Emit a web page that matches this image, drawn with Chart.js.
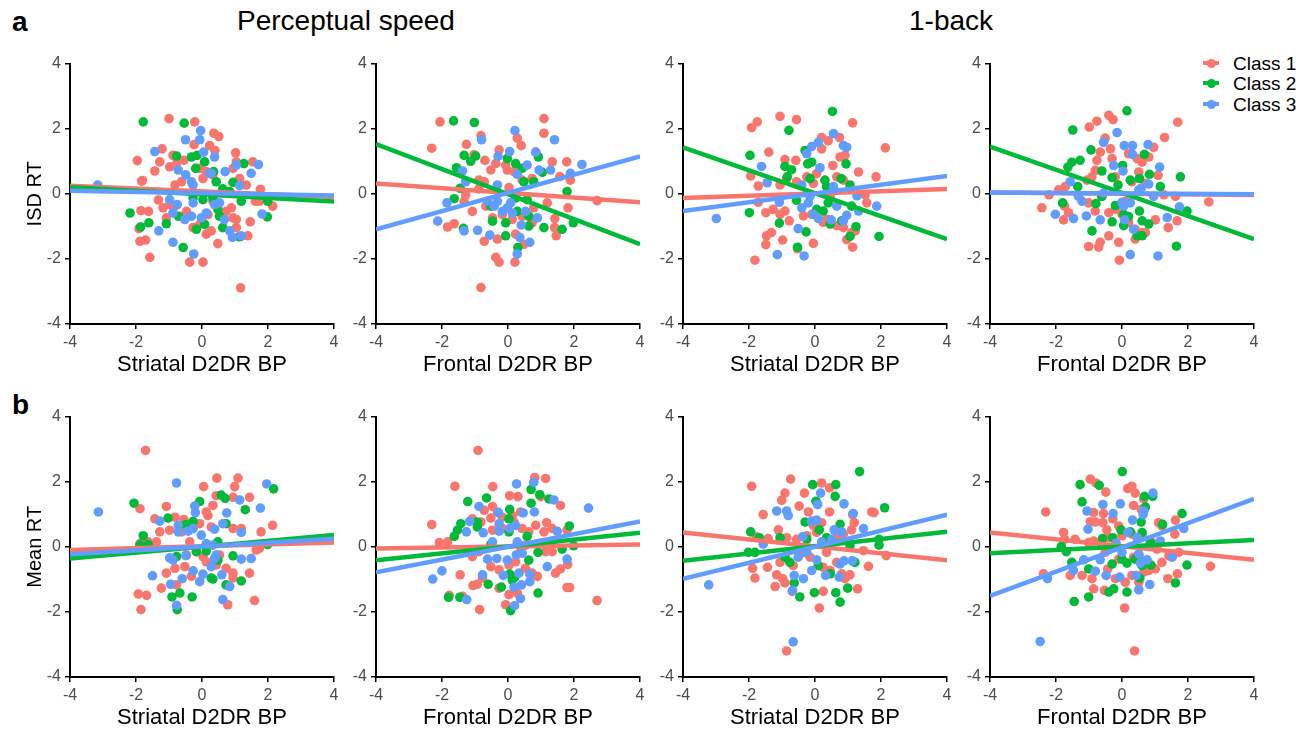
<!DOCTYPE html>
<html>
<head>
<meta charset="utf-8">
<script src="https://cdn.jsdelivr.net/npm/chart.js@4.4.1/dist/chart.umd.min.js"></script>
<style>
  html, body { margin:0; padding:0; background:#fff; }
  body { width:1311px; height:731px; position:relative; overflow:hidden; font-family:"Liberation Sans", Arial, sans-serif; }
  canvas { position:absolute; }
  .lbl { position:absolute; white-space:nowrap; color:#000; line-height:1; }
  .leg { position:absolute; left:1199px; width:110px; height:20px; font-size:19px; line-height:1; white-space:nowrap; }
  .leg .key { position:absolute; left:0; top:0; width:24px; height:20px; }
  .leg .key .ln { position:absolute; left:4px; top:8px; width:16px; height:4px; }
  .leg .key .dt { position:absolute; left:7.5px; top:5.5px; width:9px; height:9px; border-radius:50%; }
  .leg .txt { position:absolute; left:34px; top:1px; white-space:nowrap; }
</style>
</head>
<body>
<div class="lbl" style="left:12px;top:8px;font-size:28px;font-weight:bold;">a</div>
<div class="lbl" style="left:12px;top:391px;font-size:28px;font-weight:bold;">b</div>
<div class="lbl" style="left:237px;top:7px;font-size:28px;">Perceptual speed</div>
<div class="lbl" style="left:909px;top:7px;font-size:28px;">1-back</div>

<div class="leg" style="top:53px;"><div class="key"><div class="ln" style="background:#F8766D"></div><div class="dt" style="background:#F8766D"></div></div><div class="txt">Class 1</div></div>
<div class="leg" style="top:73px;"><div class="key"><div class="ln" style="background:#00BA38"></div><div class="dt" style="background:#00BA38"></div></div><div class="txt">Class 2</div></div>
<div class="leg" style="top:94px;"><div class="key"><div class="ln" style="background:#619CFF"></div><div class="dt" style="background:#619CFF"></div></div><div class="txt">Class 3</div></div>

<canvas id="c1"></canvas><canvas id="c2"></canvas><canvas id="c3"></canvas><canvas id="c4"></canvas>
<canvas id="c5"></canvas><canvas id="c6"></canvas><canvas id="c7"></canvas><canvas id="c8"></canvas>

<script>
// ---------------- DATA ----------------
const classNames = ["Class 1", "Class 2", "Class 3"];
const axisTicks = [-4, -2, 0, 2, 4];
const xTitles = ["Striatal D2DR BP", "Frontal D2DR BP", "Striatal D2DR BP", "Frontal D2DR BP"];
const yTitles = ["ISD RT", "Mean RT"];
const taskTitles = ["Perceptual speed", "1-back"];

// Panel 1: ISD RT (perceptual speed) vs striatal
const p1_class1 = [[-1.0,2.31],[-0.22,2.21],[0.36,1.86],[0.51,1.76],[-0.24,1.51],[-1.21,1.38],[-1.96,1.02],[-0.88,1.18],[0.23,1.48],[0.39,1.33],[1.02,1.26],[-1.43,0.70],[-0.98,0.83],[-0.77,0.93],[-0.55,1.03],[-0.07,0.78],[0.13,0.68],[-1.80,0.41],[-1.83,0.39],[-0.82,0.27],[-0.62,0.37],[0.03,0.47],[0.33,0.58],[0.94,0.78],[1.14,0.47],[1.34,0.27],[1.77,0.14],[1.62,-0.23],[1.74,-0.23],[2.14,-0.38],[1.04,0.98],[1.54,0.98],[-1.32,-0.19],[-1.18,-0.43],[-1.85,-0.52],[-1.62,-0.54],[-0.98,-0.33],[-0.82,-0.38],[-1.08,-0.74],[-0.47,-0.54],[0.18,-0.64],[-0.07,-0.94],[0.28,-1.14],[0.73,-0.54],[0.94,-0.74],[1.04,-0.79],[1.04,-1.04],[0.89,-0.43],[1.46,-0.86],[-1.88,-1.46],[-1.71,-1.42],[-1.58,-1.95],[-0.37,-2.10],[0.03,-2.10],[0.48,-1.53],[1.39,-1.29],[1.17,-2.89],[-1.91,-1.07],[-0.27,-1.04],[0.13,-1.24],[0.33,-0.23],[-1.28,0.98]];
const p1_class2 = [[-1.78,2.21],[-0.54,2.17],[-0.77,1.16],[-0.32,1.13],[-0.15,1.18],[0.08,0.98],[-0.19,0.78],[0.35,0.68],[1.27,0.93],[0.43,0.37],[0.94,0.35],[0.63,0.15],[0.84,0.07],[0.03,-0.18],[1.19,-0.23],[1.99,-0.23],[-2.18,-0.59],[-1.86,-1.02],[-1.61,-0.89],[-1.08,-0.92],[-0.71,-0.69],[-0.17,-1.09],[0.08,-0.94],[0.48,-0.48],[0.53,-0.69],[0.63,-1.04],[-0.57,-1.65],[1.14,-1.32],[1.98,-0.71],[0.33,-0.13],[-0.27,-0.13]];
const p1_class3 = [[-3.16,0.27],[-1.43,1.30],[-0.50,1.66],[-0.04,1.94],[-0.07,1.66],[0.05,1.28],[0.38,1.13],[-0.72,0.73],[-0.49,0.58],[-0.32,0.37],[-0.27,0.27],[0.23,0.63],[0.70,0.68],[1.04,0.88],[1.49,0.63],[1.71,0.90],[1.14,0.25],[-0.98,-0.18],[-0.88,-0.59],[-0.75,-0.33],[-0.52,-0.79],[-0.32,-0.69],[-0.27,-0.28],[-0.02,-0.74],[0.13,-0.59],[0.38,-0.33],[0.53,-0.28],[0.68,-0.79],[0.84,-1.14],[0.92,-1.34],[1.19,-1.29],[1.82,-0.62],[-1.31,-1.14],[-0.88,-1.49],[-0.25,-1.85],[0.28,0.63]];
// fitted line values at x = -4 and x = 4
const p1_fit1 = [0.25, -0.10];
const p1_fit2 = [0.20, -0.24];
const p1_fit3 = [0.09, -0.05];

// Panel 2: ISD RT (perceptual speed) vs frontal
const p2_class1 = [[-2.06,2.21],[1.09,2.31],[1.09,1.86],[-0.82,1.79],[0.28,1.71],[0.40,1.48],[-2.31,1.40],[-1.26,1.52],[-0.27,1.35],[-1.03,1.20],[-0.70,1.03],[-0.37,0.93],[-0.07,0.88],[-0.02,0.73],[-0.52,0.73],[0.84,1.28],[1.34,0.98],[1.78,0.98],[1.57,0.53],[1.89,0.42],[0.18,0.68],[0.43,0.42],[0.73,0.47],[-0.88,0.42],[-0.72,0.37],[0.03,0.19],[-0.88,0.15],[-1.33,-0.23],[-1.08,-0.54],[-0.67,-0.38],[-0.47,-0.74],[-0.17,-0.64],[0.13,-0.79],[0.43,-0.69],[0.73,-0.89],[1.19,-0.28],[1.42,-0.76],[1.82,-0.43],[1.41,-1.04],[1.46,-1.29],[2.70,-0.21],[-1.83,-1.02],[-1.63,-0.92],[-0.72,-1.46],[-0.32,-1.39],[-0.37,-1.95],[-0.27,-2.10],[0.21,-2.10],[0.48,-1.55],[0.23,-1.24],[-0.82,-2.88],[-1.28,-0.03],[0.78,-0.43]];
const p2_class2 = [[-1.65,2.24],[-1.02,2.19],[-1.33,1.18],[-0.98,1.16],[-1.13,1.0],[-1.56,0.80],[0.23,0.93],[-0.02,1.08],[0.43,0.78],[1.04,0.66],[0.92,1.13],[0.48,0.37],[0.78,0.37],[-1.45,0.17],[-1.63,-0.15],[0.23,-0.13],[0.58,-0.18],[1.79,0.07],[0.28,-0.54],[0.63,-0.69],[-0.07,-0.89],[-0.47,-0.84],[-0.52,-0.38],[1.09,-1.04],[1.64,-1.09],[1.98,-0.89],[-1.35,-1.06],[-0.07,-1.29],[0.30,-1.65],[0.63,-0.99]];
const p2_class3 = [[0.21,1.94],[-0.80,1.66],[1.41,1.66],[0.05,1.30],[-0.30,1.15],[0.84,1.28],[0.58,0.88],[0.94,0.73],[1.29,0.73],[1.89,0.63],[2.24,0.90],[0.28,0.60],[-1.38,0.70],[-0.32,0.27],[-0.62,-0.23],[-0.42,-0.38],[-1.85,-0.28],[-2.13,-0.84],[-1.33,-1.14],[-0.92,-1.12],[-0.55,-1.27],[-0.17,-0.54],[-0.02,-0.43],[0.08,-0.28],[0.13,-0.59],[0.53,-0.54],[0.89,-0.74],[0.40,-0.96],[0.36,-1.34],[0.66,-1.49],[0.28,-1.85],[-0.32,-0.23],[-1.28,0.37]];
const p2_fit1 = [0.32, -0.26];
const p2_fit2 = [1.53, -1.55];
const p2_fit3 = [-1.09, 1.15];

// Panel 3: ISD RT (1-back) vs striatal
const p3_class1 = [[-1.92,2.03],[-1.75,2.21],[-1.06,2.38],[-0.56,2.28],[1.14,2.18],[-1.40,1.28],[-0.91,1.05],[-0.58,1.03],[0.20,1.73],[0.40,1.63],[0.74,1.73],[0.20,1.38],[0.54,0.87],[0.76,1.13],[0.91,1.18],[2.13,1.41],[1.32,0.67],[1.85,0.52],[-1.95,0.55],[-1.72,0.24],[-1.06,0.27],[-0.86,0.47],[-0.56,0.37],[-0.25,0.52],[-0.05,0.32],[0.05,0.62],[0.66,0.52],[0.86,0.42],[1.52,-0.03],[1.57,-0.28],[-1.72,-0.26],[-1.49,-0.58],[-1.27,-0.48],[-1.06,-0.63],[-0.91,-0.53],[-0.78,-0.83],[-0.35,-0.68],[-0.10,-0.63],[0.25,-0.88],[0.66,-0.98],[0.86,-1.04],[1.11,-1.19],[1.22,-1.14],[-1.47,-1.29],[-1.32,-1.19],[-1.49,-1.56],[-0.98,-1.42],[-0.53,-1.69],[-0.05,-1.52],[-1.82,-2.04],[0.96,-1.41],[1.14,-1.64],[0.35,-0.78],[0.46,-0.08]];
const p3_class2 = [[0.53,2.53],[-0.79,1.95],[-1.97,1.18],[-0.30,1.33],[-0.10,0.97],[-0.22,0.92],[-0.91,0.84],[-0.71,0.74],[-0.84,0.52],[-0.15,0.47],[0.30,0.42],[0.79,0.47],[0.94,0.92],[1.06,0.27],[0.35,0.22],[-0.56,-0.20],[-1.99,-0.58],[-1.08,-0.90],[-0.27,-1.17],[-0.53,-1.64],[0.05,-0.48],[0.25,-0.53],[0.46,-0.93],[1.11,-0.38],[1.24,-1.01],[1.06,-1.31],[1.94,-1.31],[0.81,-0.83],[0.40,-0.28]];
const p3_class3 = [[-2.99,-0.76],[-1.62,0.84],[-1.45,0.34],[-1.08,-0.26],[-0.25,1.23],[-0.10,1.45],[0.10,1.58],[0.56,1.85],[0.86,1.48],[0.96,1.43],[0.15,0.80],[-0.40,0.27],[-0.15,-0.08],[-0.40,-0.43],[-0.20,-0.28],[-0.05,-0.63],[0.10,-0.76],[0.49,-0.80],[0.86,-0.83],[0.96,-0.66],[1.32,-0.53],[1.27,-0.06],[1.87,-0.38],[0.56,0.22],[-0.51,-1.07],[-1.14,-1.87],[-0.33,-1.91],[0.66,-0.38]];
const p3_fit1 = [-0.13, 0.15];
const p3_fit2 = [1.43, -1.39];
const p3_fit3 = [-0.53, 0.55];

// Panel 4: ISD RT (1-back) vs frontal
const p4_class1 = [[-0.99,2.05],[-0.76,2.23],[-0.40,2.41],[-0.27,2.28],[1.69,2.20],[1.29,1.73],[-0.51,1.71],[-0.35,1.38],[-0.66,1.28],[-0.76,1.03],[-0.81,0.72],[-0.30,1.08],[0.46,1.08],[0.61,0.97],[0.81,1.13],[0.96,1.43],[0.20,1.23],[0.51,0.67],[1.09,0.57],[0.71,0.32],[0.30,0.37],[-0.20,0.52],[-0.91,0.52],[-1.06,0.42],[-1.72,0.22],[-1.92,0.12],[-2.21,-0.03],[-2.43,-0.43],[-1.74,-0.38],[-1.62,-0.58],[-1.77,-0.80],[-1.01,-0.28],[-0.81,-0.53],[-0.40,-0.58],[-0.20,-0.48],[0,-0.63],[0.20,-0.88],[0.40,-1.09],[0.71,-1.19],[1.01,-0.80],[1.40,-1.04],[1.67,-0.83],[1.62,-0.08],[2.63,-0.25],[1.27,-0.03],[-0.40,-1.29],[-0.10,-1.49],[-1.01,-1.62],[-0.71,-1.64],[-0.66,-1.49],[-0.08,-2.04],[0.40,-1.39],[0.61,-1.19],[-0.61,-0.08],[0.10,-0.23]];
const p4_class2 = [[0.15,2.55],[-1.49,1.96],[-0.94,1.35],[-1.64,0.82],[-1.52,0.97],[-1.27,1.03],[-0.61,0.70],[-0.30,0.50],[-0.12,0.27],[0.02,0.87],[0.25,0.42],[0.53,0.47],[0.68,1.21],[0.83,0.60],[1.16,0.22],[1.77,0.52],[-1.34,0.22],[-1.80,-0.28],[-0.79,-0.30],[-0.20,-0.36],[0.05,-0.63],[0.20,-0.70],[0.53,-0.53],[0.61,-0.83],[0.81,-0.93],[-0.30,-0.86],[-0.91,-1.14],[0.05,-0.98],[0.46,-1.29],[0.61,-1.29],[1.65,-1.61],[1.97,-0.53],[-0.61,-0.08]];
const p4_class3 = [[-0.15,1.88],[-0.56,1.58],[0.07,1.48],[0.32,1.48],[0.79,1.51],[0.32,1.21],[-0.25,0.87],[0.03,0.70],[1.14,0.82],[-1.57,0.37],[-1.21,-0.23],[-1.32,-0.08],[-2.02,-0.63],[-1.47,-0.76],[-1.08,-0.68],[-0.66,-0.80],[-0.56,0.02],[0,-0.26],[0.05,-0.38],[0.25,-0.28],[0.58,0.17],[0.81,0.30],[0.96,-0.08],[0.08,-0.80],[0.35,-1.09],[1.37,-0.73],[1.74,-0.40],[0.25,-1.87],[1.09,-1.91],[0.51,0.12]];
const p4_fit1 = [0.04, -0.04];
const p4_fit2 = [1.45, -1.39];
const p4_fit3 = [0.04, -0.01];

// Panel 5: Mean RT (perceptual speed) vs striatal
const p5_class1 = [[-1.71,2.96],[0.45,2.11],[1.09,2.11],[0.05,1.85],[0.99,1.85],[1.44,1.52],[0.43,1.57],[0.94,1.52],[0.33,1.27],[0.13,1.07],[0.18,0.96],[-1.88,1.17],[-1.08,1.24],[-1.43,0.86],[-0.82,0.91],[-0.55,0.84],[-1.28,0.46],[-0.98,0.51],[-0.62,0.46],[-1.38,0.15],[-1.88,0.10],[-1.63,0.15],[-0.07,0.71],[0.28,0.61],[0.94,0.56],[1.19,0.56],[1.79,0.46],[2.14,0.66],[1.64,-0.10],[1.74,-0.05],[-0.37,0.15],[-0.17,-0.15],[0.03,-0.30],[-0.47,-0.25],[-0.82,-0.66],[-0.52,-0.61],[-1.08,-0.81],[-1.23,-1.27],[-0.77,-1.17],[-0.32,-0.91],[0.43,-0.56],[0.73,-0.66],[0.94,-0.96],[0.94,-0.81],[1.44,-0.81],[0.78,-1.78],[-1.93,-1.45],[-1.68,-1.49],[-1.85,-1.93],[1.59,-1.65],[0.53,-0.25],[0.13,-0.46]];
const p5_class2 = [[-2.06,1.34],[0.58,1.59],[0.70,1.49],[2.17,1.78],[1.31,1.14],[-0.07,1.39],[-1.03,0.88],[-0.49,0.68],[-0.27,0.78],[0.73,0.71],[-1.78,0.34],[-1.88,0.05],[-1.63,0.07],[-0.17,-0.15],[0.13,-0.13],[0.48,-0.41],[0.94,-0.28],[1.99,0.07],[1.19,-1.05],[0.73,-1.17],[0.33,-0.99],[0.28,-0.96],[-0.91,-1.54],[-0.67,-1.42],[-0.30,-1.54],[-0.75,-1.93],[-0.77,-0.30],[0.48,0.15]];
const p5_class3 = [[-3.14,1.07],[-0.77,1.96],[1.96,1.93],[1.14,1.44],[-0.22,1.25],[-0.20,1.05],[1.77,1.19],[0.75,1.04],[-1.28,0.79],[-0.72,0.66],[-0.72,0.46],[-0.42,0.48],[-0.27,0.56],[0.38,0.54],[0.63,0.71],[1.19,0.44],[-0.02,0.36],[0.13,0.10],[0.33,0.05],[0.43,-0.25],[-0.98,-0.34],[-0.88,-0.41],[-0.49,-0.27],[0.38,-0.36],[1.19,-0.38],[1.49,-0.36],[-0.27,-0.74],[0.03,-0.84],[-0.07,-1.07],[0.28,-0.61],[-1.50,-0.89],[-0.95,-1.15],[-0.60,-0.98],[0.60,-0.86],[0.84,-1.22],[0.63,-1.62],[-0.77,-1.80]];
const p5_fit1 = [-0.10, 0.13];
const p5_fit2 = [-0.36, 0.36];
const p5_fit3 = [-0.23, 0.25];

// Panel 6: Mean RT (perceptual speed) vs frontal
const p6_class1 = [[-0.91,2.96],[-1.61,1.86],[-0.46,1.85],[0.81,2.13],[1.14,2.10],[0.05,1.57],[0.30,1.54],[0.99,1.54],[1.59,1.27],[-0.72,1.12],[-0.47,1.24],[-0.32,1.07],[-0.17,0.91],[0.13,0.96],[0.38,1.07],[-2.31,0.68],[-1.08,0.86],[-0.82,0.76],[-0.52,0.88],[-0.47,0.51],[-0.17,0.56],[0.18,0.76],[0.43,0.56],[0.63,0.46],[0.84,0.66],[1.17,0.74],[1.09,0.46],[1.34,0.56],[1.79,0.51],[-2.08,0.13],[-1.83,0.15],[-1.08,-0.30],[-0.88,-0.15],[-0.52,-0.61],[-0.27,-0.71],[0.03,-0.56],[0.23,-0.46],[0.53,-0.66],[0.73,-0.81],[0.89,-0.91],[1.14,-0.15],[1.34,-0.15],[1.44,-0.81],[1.59,-0.68],[1.81,-0.54],[-1.45,-0.86],[-1.06,-1.19],[-0.93,-1.15],[-0.77,-0.96],[-0.27,-1.27],[-0.07,-1.78],[0.03,-1.47],[0.28,-1.42],[1.79,-1.25],[1.87,-1.25],[2.70,-1.65],[-0.86,-1.93],[-1.78,-1.49],[-1.38,-1.52],[0.38,-0.15],[0.53,0.05],[1.34,0.15]];
const p6_class2 = [[-1.22,1.39],[-0.65,1.50],[0.70,1.76],[0.96,1.60],[1.24,1.47],[0.70,1.34],[0.05,1.15],[0.03,0.86],[-1.43,0.71],[-1.53,0.51],[-1.63,0.32],[-0.93,0.76],[-0.93,0.61],[0.58,0.32],[1.86,0.64],[1.99,0.03],[1.64,-0.07],[0.91,-0.17],[0.63,-0.41],[0.05,-0.84],[0.13,-1.02],[0.20,-0.94],[-0.60,-1.15],[-0.20,-1.24],[-1.80,-1.55],[-1.46,-1.55],[0.91,-1.42],[0.08,-1.96],[-0.52,0.07],[0.03,0.46]];
const p6_class3 = [[0.26,1.93],[0.78,1.98],[1.39,1.44],[2.44,1.19],[-0.88,1.24],[-0.29,1.05],[0.46,1.04],[0.80,1.07],[-1.16,0.78],[-1.26,0.46],[-0.75,0.43],[-0.27,0.71],[-0.27,0.48],[0.05,0.56],[0.23,0.66],[0.28,0.15],[1.19,-0.61],[1.49,0.48],[1.79,-0.38],[-0.62,-0.38],[-0.34,-0.36],[-0.02,-0.41],[0.25,-0.25],[0.43,-0.20],[-0.77,-0.86],[-0.14,-0.88],[0.33,-0.81],[0.66,-0.84],[0.66,-1.07],[0.41,-1.17],[0.18,-1.24],[-2.28,-0.99],[-2.00,-0.74],[-1.25,-1.62],[0.38,-1.59],[0.20,-1.81],[-0.47,0.15]];
const p6_fit1 = [-0.05, 0.07];
const p6_fit2 = [-0.41, 0.43];
const p6_fit3 = [-0.78, 0.78];

// Panel 7: Mean RT (1-back) vs striatal
const p7_class1 = [[-1.92,1.86],[-0.74,2.08],[-0.91,1.65],[-1.01,1.43],[-0.32,1.65],[0.20,1.96],[0.44,1.81],[-0.48,1.25],[-0.20,1.07],[-1.57,0.99],[0.44,1.07],[1.14,0.99],[1.72,1.07],[1.79,1.05],[-1.11,0.52],[-1.77,0.31],[-1.42,0.25],[-0.86,0.28],[-0.56,0.23],[-0.25,0.34],[0.05,0.44],[0.20,0.74],[-0.05,0.66],[0.66,0.28],[0.86,0.39],[1.11,0.52],[1.19,0.74],[1.47,-0.12],[2.16,-0.27],[-1.89,-0.66],[-1.82,-0.96],[-1.44,-0.63],[-1.16,-0.86],[-0.98,-0.98],[-0.91,-1.11],[-1.06,-0.48],[-0.66,-0.58],[-0.15,-0.32],[0.25,-0.63],[0.46,-0.73],[0.66,-0.48],[0.81,-0.83],[0.91,-0.98],[1.06,-0.86],[1.62,-0.60],[1.29,-1.29],[-1.21,-1.22],[-0.69,-1.37],[0.25,-1.37],[0.13,-1.88],[-0.86,-3.20],[-0.35,-0.17],[0.35,-0.17]];
const p7_class2 = [[1.35,2.31],[-0.07,1.91],[0.63,1.91],[0.61,1.55],[0.03,1.40],[2.11,1.20],[-0.30,0.76],[0.13,0.52],[0.76,0.69],[-1.95,0.46],[-1.69,0.28],[-1.06,0.28],[-2.02,-0.17],[-1.82,-0.17],[-0.91,-0.32],[-0.76,-0.48],[-0.25,0.23],[0.35,0.28],[1.06,0.03],[1.94,0.05],[1.94,0.23],[-0.63,-1.11],[-0.46,-1.54],[-0.02,-1.41],[0.63,-1.41],[0.76,-1.70],[0.99,-1.27],[0.10,-0.58],[0.46,-0.83],[1.21,-0.48]];
const p7_class3 = [[0.17,1.65],[0.08,1.30],[0.88,1.32],[1.16,1.02],[-1.16,1.10],[-0.86,1.10],[-0.81,0.96],[-0.10,0.79],[0.05,0.82],[0.58,0.52],[0.81,0.46],[1.47,0.56],[-0.37,0.31],[0.20,0.15],[0.51,0.23],[-0.51,-0.32],[-0.25,-0.17],[0.05,-0.40],[0.76,-0.53],[0.88,-0.43],[1.13,-0.43],[-0.63,-0.88],[-0.35,-0.98],[-0.10,-0.73],[0.32,-0.88],[0.73,-0.93],[-0.68,-1.34],[-3.22,-1.17],[-0.66,-2.92],[-1.57,0.08]];
const p7_fit1 = [0.44, -0.41];
const p7_fit2 = [-0.43, 0.46];
const p7_fit3 = [-0.98, 0.99];

// Panel 8: Mean RT (1-back) vs frontal
const p8_class1 = [[-0.96,2.08],[-0.79,1.96],[0.30,1.86],[0.17,1.79],[0.40,1.65],[-0.49,1.68],[-2.31,1.07],[-0.86,1.05],[-0.56,1.02],[-0.28,0.86],[0.35,1.27],[0.58,1.15],[0.66,1.47],[-0.96,0.77],[-0.81,0.76],[-0.58,0.74],[-0.46,0.52],[-0.10,0.64],[1.11,0.74],[1.21,0.64],[1.62,0.82],[1.60,0.39],[-1.77,0.44],[-1.74,0.23],[-1.42,0.23],[-1.01,0.13],[-0.86,0.18],[-0.40,0.28],[0,0.34],[0.30,0.39],[0.61,0.34],[0.91,0.13],[1.06,-0.07],[1.72,-0.17],[1.42,-0.27],[2.68,-0.60],[-2.38,-0.83],[-1.57,-0.88],[-1.21,-0.88],[-0.91,-0.98],[-0.86,-1.29],[-0.53,-1.34],[-0.43,-0.68],[-0.20,-0.98],[0.10,-1.09],[0.30,-0.88],[0.51,-1.09],[0.66,-0.78],[0.81,-0.73],[1.01,-0.68],[1.39,-0.98],[1.68,-0.83],[0.08,-1.88],[0.38,-3.20],[-0.51,-0.17],[-0.10,-0.38],[0.35,-0.32],[1.21,-0.48]];
const p8_class2 = [[0.01,2.31],[-1.27,1.91],[-0.69,1.89],[-1.21,1.38],[0.71,1.22],[0.68,1.55],[0.93,1.55],[0.58,0.76],[1.82,1.02],[1.23,0.69],[-0.59,0.25],[-0.28,0.28],[-0.03,0.52],[0.25,0.46],[0.61,0.44],[0.86,0.13],[-1.84,0.01],[-1.69,-0.15],[-1.52,-0.48],[-1.01,-0.68],[-0.30,-0.53],[0,-0.38],[0.15,-0.50],[0.40,-0.38],[0.61,-0.58],[0.88,-0.56],[1.97,-0.56],[1.62,-1.11],[-1.45,-1.68],[-1.01,-1.54],[-0.40,-1.39],[-0.25,-1.29],[0.15,-1.39],[0.54,-0.96],[0.51,-0.27]];
const p8_class3 = [[0.94,1.65],[-0.58,1.30],[-0.05,1.32],[-1.06,1.10],[-0.27,1.02],[0.66,1.10],[0.64,0.99],[0.32,0.82],[-1.03,0.54],[0.18,0.44],[0.46,0.28],[1.16,0.18],[1.87,0.56],[-0.18,0.11],[0,-0.17],[-1.16,-0.40],[-0.66,-0.40],[0.51,-0.22],[0.76,-0.40],[0.56,-0.50],[1.52,-0.32],[-1.47,-0.73],[-0.81,-0.75],[-0.48,-0.88],[-0.07,-0.93],[0.43,-0.88],[0.84,-1.16],[0.51,-1.32],[-2.26,-0.98],[-2.48,-2.91]];
const p8_fit1 = [0.44, -0.40];
const p8_fit2 = [-0.20, 0.21];
const p8_fit3 = [-1.51, 1.47];

// ---------------- DRAWING ----------------
const FONT = '"Liberation Sans", Arial, sans-serif';
const COLORS = ['#F8766D', '#00BA38', '#619CFF'];
const PLOT_W = 264, PLOT_H = 262;
const Y_W = 60, X_H = 60, PAD_T = 12, PAD_R = 14, PAD_B = 2;

const panels = [
  { id:'c1', ax:70,  top:62,  pts:[p1_class1,p1_class2,p1_class3], fits:[p1_fit1,p1_fit2,p1_fit3], xt:xTitles[0], yt:yTitles[0] },
  { id:'c2', ax:376, top:62,  pts:[p2_class1,p2_class2,p2_class3], fits:[p2_fit1,p2_fit2,p2_fit3], xt:xTitles[1], yt:null },
  { id:'c3', ax:683, top:62,  pts:[p3_class1,p3_class2,p3_class3], fits:[p3_fit1,p3_fit2,p3_fit3], xt:xTitles[2], yt:null },
  { id:'c4', ax:990, top:62,  pts:[p4_class1,p4_class2,p4_class3], fits:[p4_fit1,p4_fit2,p4_fit3], xt:xTitles[3], yt:null },
  { id:'c5', ax:70,  top:415, pts:[p5_class1,p5_class2,p5_class3], fits:[p5_fit1,p5_fit2,p5_fit3], xt:xTitles[0], yt:yTitles[1] },
  { id:'c6', ax:376, top:415, pts:[p6_class1,p6_class2,p6_class3], fits:[p6_fit1,p6_fit2,p6_fit3], xt:xTitles[1], yt:null },
  { id:'c7', ax:683, top:415, pts:[p7_class1,p7_class2,p7_class3], fits:[p7_fit1,p7_fit2,p7_fit3], xt:xTitles[2], yt:null },
  { id:'c8', ax:990, top:415, pts:[p8_class1,p8_class2,p8_class3], fits:[p8_fit1,p8_fit2,p8_fit3], xt:xTitles[3], yt:null }
];

const xMin = axisTicks[0], xMax = axisTicks[axisTicks.length - 1];

function axisOpts(isX, title) {
  return {
    type: 'linear',
    min: xMin, max: xMax,
    afterBuildTicks: (s) => { s.ticks = axisTicks.map(v => ({ value: v })); },
    ticks: { color: '#4D4D4D', font: { size: 16, family: FONT }, padding: 4, callback: (v) => String(v) },
    grid: { drawOnChartArea: false, drawTicks: true, tickLength: 5, color: '#000', lineWidth: 1.5 },
    border: { display: true, color: '#000', width: 2 },
    title: title ? {
      display: true, text: title, color: '#000',
      font: { size: isX ? 22 : 20, family: FONT },
      padding: isX ? { top: 0, bottom: 6 } : { top: 13, bottom: 0 }
    } : { display: false },
    afterFit: (s) => { if (isX) s.height = X_H; else s.width = Y_W; }
  };
}

panels.forEach(p => {
  const cv = document.getElementById(p.id);
  const w = Y_W + PLOT_W + PAD_R, h = PAD_T + PLOT_H + X_H + PAD_B;
  cv.width = w; cv.height = h;
  cv.style.left = (p.ax - Y_W) + 'px';
  cv.style.top = (p.top - PAD_T) + 'px';
  cv.style.width = w + 'px'; cv.style.height = h + 'px';

  const datasets = [];
  // fitted lines (drawn on top)
  p.fits.forEach((f, i) => {
    datasets.push({
      type: 'line', label: classNames[i] + ' fit',
      data: [{ x: xMin, y: f[0] }, { x: xMax, y: f[1] }],
      borderColor: COLORS[i], borderWidth: 4.5, pointRadius: 0, fill: false,
      tension: 0, order: 2 - i
    });
  });
  p.pts.forEach((arr, i) => {
    datasets.push({
      type: 'scatter', label: classNames[i],
      data: arr.map(([x, y]) => ({ x, y })),
      backgroundColor: COLORS[i], borderWidth: 0, pointRadius: 4.8, pointHoverRadius: 4.8,
      order: 5 - i
    });
  });

  new Chart(cv, {
    type: 'scatter',
    data: { datasets },
    options: {
      responsive: false, animation: false, events: [], devicePixelRatio: 1,
      layout: { padding: { left: 0, top: PAD_T, right: PAD_R, bottom: PAD_B } },
      plugins: { legend: { display: false }, tooltip: { enabled: false } },
      scales: {
        x: axisOpts(true, p.xt),
        y: axisOpts(false, p.yt)
      }
    }
  });
});
</script>
</body>
</html>
